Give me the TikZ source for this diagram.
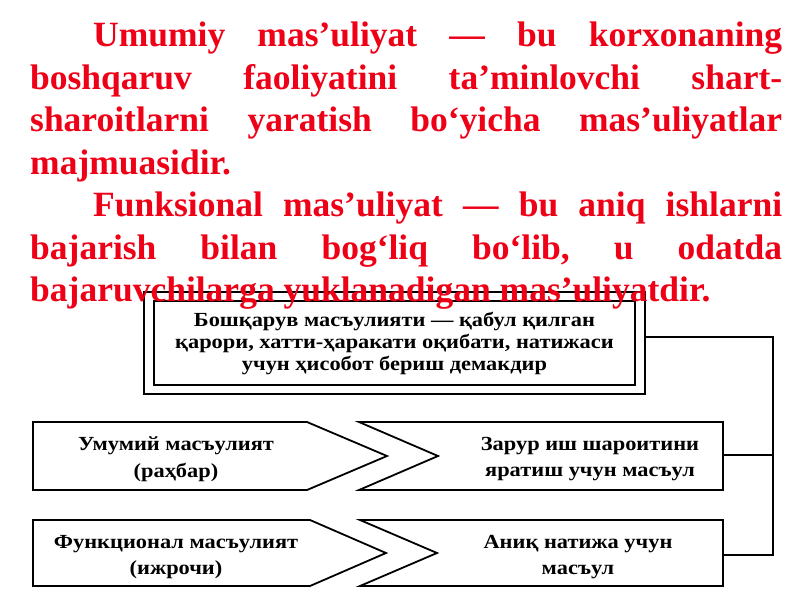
\documentclass[tikz,border=0pt]{standalone}
\usepackage{fontspec}
\setmainfont{Liberation Serif}
\newfontfamily\cyrfont{Liberation Serif}[FakeStretch=1.12]
\usetikzlibrary{calc}
\definecolor{redtxt}{RGB}{238,0,22}
\tikzset{
  frame/.style={draw=black, line width=1.8pt, line join=miter},
  boxtext/.style={font=\cyrfont\fontsize{20}{22}\selectfont\bfseries, align=center, inner sep=0pt},
  rowtext/.style={font=\cyrfont\fontsize{20}{26.5}\selectfont\bfseries, align=center, inner sep=0pt},
  conn/.style={draw=black, line width=1.8pt},
}
\newcommand\jline[1]{\hbox to 752pt{#1}}
\begin{document}
\begin{tikzpicture}[x=1pt,y=-1pt]
\useasboundingbox (0,0) rectangle (800,600);
% top box
\node[frame, minimum width=481pt, minimum height=84pt, boxtext] (top) at (394.5,343)
  {Бошқарув масъулияти — қабул қилган\\қарори, хатти-ҳаракати оқибати, натижаси\\учун ҳисобот бериш демакдир};
\draw[frame] ([shift={(-9pt,8pt)}]top.north west) rectangle ([shift={(9pt,-8pt)}]top.south east);
\coordinate (topR) at ([shift={(9pt,6pt)}]top.east);
% row 1
\draw[frame] (33,422) -- (307,422) -- (387,456) -- (307,490) -- (33,490) -- cycle;
\draw[frame] (359,422) -- (723,422) -- (723,490) -- (359,490) -- (438,456) -- cycle;
% row 2
\draw[frame] (33,520) -- (310,520) -- (386,553) -- (310,586) -- (33,586) -- cycle;
\draw[frame] (360,520) -- (723,520) -- (723,586) -- (360,586) -- (437,553) -- cycle;
\node[rowtext] (t1l) at (176,459) {Умумий масъулият\\(раҳбар)};
\node[rowtext] (t1r) at (590,459) {Зарур иш шароитини\\яратиш учун масъул};
\node[rowtext] (t2l) at (176,557) {Функционал масъулият\\(ижрочи)};
\node[rowtext] (t2r) at (578,557) {Аниқ натижа учун\\масъул};
% connectors
\coordinate (r1e) at (723,455);
\coordinate (r2e) at (723,555);
\coordinate (busx) at (773,0);
\draw[conn] (topR) -- (topR -| busx) |- (r2e);
\draw[conn] (r1e) -- (r1e -| busx);
% red text
\node[anchor=north west, inner sep=0pt, text=redtxt, font=\fontsize{35.5}{42.5}\selectfont\bfseries] (para) at (30,22)
 {\vbox{\baselineskip=42.5pt
  \jline{\hspace*{63pt}Umumiy\hfill mas’uliyat\hfill —\hfill bu\hfill korxonaning}
  \jline{boshqaruv\hfill faoliyatini\hfill ta’minlovchi\hfill shart-}
  \jline{sharoitlarni\hfill yaratish\hfill bo‘yicha\hfill mas’uliyatlar}
  \jline{majmuasidir.\hfill}
  \jline{\hspace*{63pt}Funksional\hfill mas’uliyat\hfill —\hfill bu\hfill aniq\hfill ishlarni}
  \jline{bajarish\hfill bilan\hfill bog‘liq\hfill bo‘lib,\hfill u\hfill odatda}
  \jline{bajaruvchilarga yuklanadigan mas’uliyatdir.\hfill}
 }};
\end{tikzpicture}
\end{document}
